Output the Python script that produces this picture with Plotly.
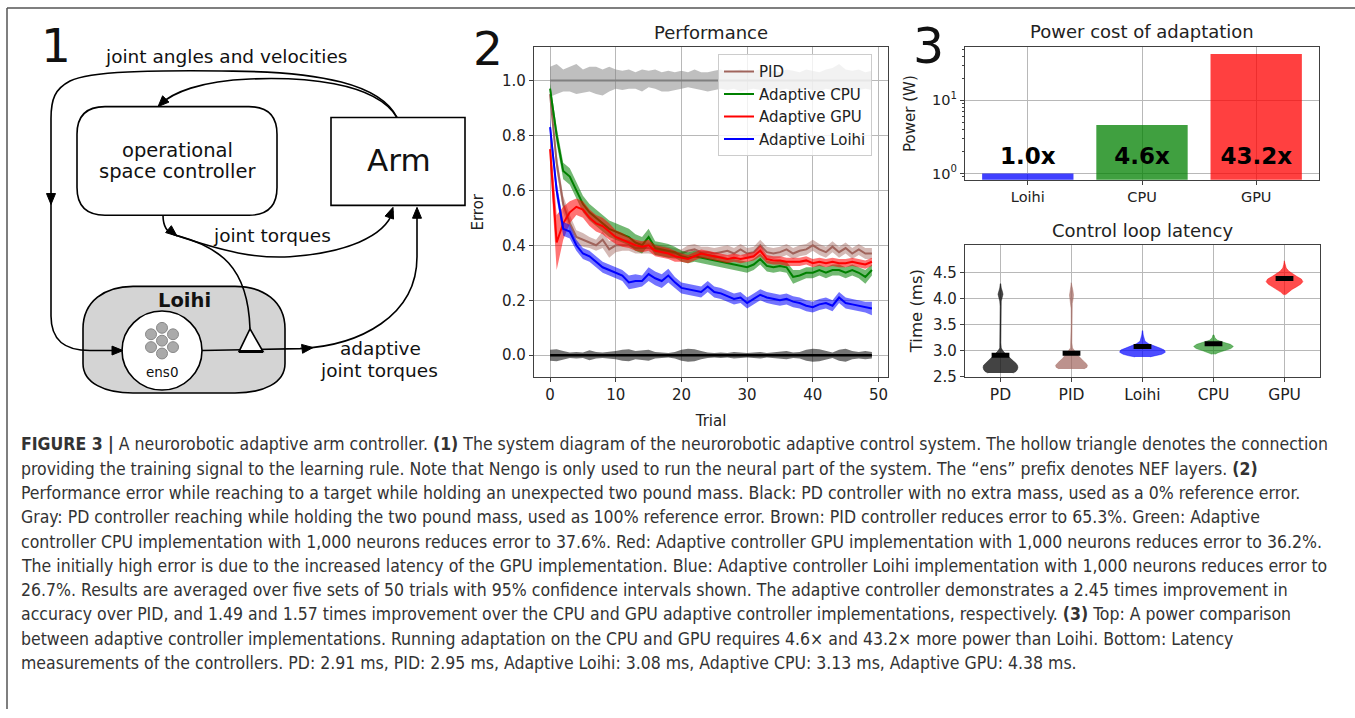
import numpy as np
import plotly.graph_objects as go

W, H = 1355, 718

# ---------------- Panel 2 data: Performance ----------------
trials = list(range(50))
gray_mean = [1.0, 1.0, 1.0, 1.0, 1.0, 1.0, 1.0, 1.0, 1.0, 1.0, 1.0, 1.0, 1.0, 1.0, 1.0, 1.0, 1.0, 1.0, 1.0, 1.0,
             1.0, 1.0, 1.0, 1.0, 1.0, 1.0, 1.0, 1.0, 1.0, 1.0, 1.0, 1.0, 1.0, 1.0, 1.0, 1.0, 1.0, 1.0, 1.0, 1.0,
             1.0, 1.0, 1.0, 1.0, 1.0, 1.0, 1.0, 1.0, 1.0, 1.0]
gray_hi = [1.05, 1.06, 1.04, 1.05, 1.06, 1.04, 1.05, 1.05, 1.04, 1.05, 1.04, 1.035, 1.04, 1.03, 1.04, 1.035, 1.04,
           1.03, 1.035, 1.03, 1.035, 1.03, 1.04, 1.03, 1.03, 1.035, 1.04, 1.03, 1.035, 1.04, 1.03, 1.035, 1.04,
           1.03, 1.035, 1.03, 1.04, 1.035, 1.03, 1.04, 1.035, 1.03, 1.04, 1.045, 1.06, 1.04, 1.035, 1.04, 1.03, 1.035]
gray_lo = [0.94, 0.95, 0.96, 0.96, 0.95, 0.955, 0.96, 0.95, 0.945, 0.96, 0.97, 0.965, 0.97, 0.97, 0.96, 0.975, 0.97,
           0.96, 0.96, 0.965, 0.97, 0.975, 0.97, 0.965, 0.96, 0.965, 0.97, 0.965, 0.97, 0.96, 0.965, 0.97, 0.965,
           0.96, 0.97, 0.965, 0.97, 0.96, 0.965, 0.97, 0.965, 0.96, 0.97, 0.965, 0.96, 0.965, 0.97, 0.965, 0.97, 0.965]
black_mean = [0.0, 0.0, 0.0, 0.0, 0.0, 0.0, 0.0, 0.0, 0.0, 0.0, 0.0, 0.0, 0.0, 0.0, 0.0, 0.0, 0.0, 0.0, 0.0, 0.0,
              0.0, 0.0, 0.0, 0.0, 0.0, 0.0, 0.0, 0.0, 0.0, 0.0, 0.0, 0.0, 0.0, 0.0, 0.0, 0.0, 0.0, 0.0, 0.0, 0.0,
              0.0, 0.0, 0.0, 0.0, 0.0, 0.0, 0.0, 0.0, 0.0, 0.0]
black_ci = [0.02, 0.022, 0.015, 0.01, 0.012, 0.01, 0.018, 0.012, 0.01, 0.012, 0.015, 0.02, 0.022, 0.015, 0.018,
            0.02, 0.012, 0.01, 0.008, 0.012, 0.02, 0.024, 0.022, 0.015, 0.01, 0.008, 0.01, 0.008, 0.012, 0.01,
            0.008, 0.01, 0.012, 0.008, 0.01, 0.012, 0.015, 0.01, 0.012, 0.02, 0.024, 0.022, 0.015, 0.01, 0.02,
            0.024, 0.015, 0.012, 0.015, 0.012]
pid_mean = [0.95, 0.70, 0.55, 0.48, 0.43, 0.42, 0.41, 0.40, 0.42, 0.385, 0.40, 0.40, 0.40, 0.39, 0.39, 0.39, 0.385,
            0.38, 0.375, 0.37, 0.37, 0.38, 0.385, 0.375, 0.375, 0.37, 0.375, 0.38, 0.37, 0.385, 0.37, 0.375, 0.40,
            0.375, 0.37, 0.375, 0.385, 0.37, 0.38, 0.385, 0.40, 0.385, 0.375, 0.395, 0.375, 0.39, 0.37, 0.385,
            0.37, 0.37]
pid_ci = [0.02, 0.03, 0.03, 0.03, 0.025, 0.025, 0.02, 0.02, 0.03, 0.03, 0.025, 0.02, 0.02, 0.02, 0.02, 0.02, 0.02,
          0.02, 0.02, 0.02, 0.015, 0.02, 0.02, 0.02, 0.02, 0.02, 0.02, 0.02, 0.02, 0.02, 0.02, 0.02, 0.02, 0.02,
          0.02, 0.02, 0.02, 0.02, 0.02, 0.02, 0.02, 0.02, 0.02, 0.02, 0.02, 0.02, 0.02, 0.02, 0.02, 0.02]
cpu_mean = [0.97, 0.80, 0.67, 0.65, 0.60, 0.55, 0.52, 0.50, 0.48, 0.46, 0.45, 0.44, 0.43, 0.41, 0.40, 0.43, 0.39,
            0.385, 0.38, 0.375, 0.36, 0.355, 0.36, 0.355, 0.35, 0.345, 0.34, 0.335, 0.33, 0.325, 0.32, 0.33, 0.35,
            0.325, 0.32, 0.325, 0.32, 0.285, 0.29, 0.30, 0.30, 0.31, 0.30, 0.31, 0.31, 0.30, 0.31, 0.30, 0.285, 0.31]
cpu_ci = [0.02, 0.03, 0.03, 0.03, 0.03, 0.03, 0.03, 0.03, 0.03, 0.03, 0.03, 0.03, 0.03, 0.03, 0.03, 0.03, 0.025,
          0.025, 0.025, 0.02, 0.02, 0.02, 0.02, 0.02, 0.02, 0.02, 0.02, 0.02, 0.02, 0.02, 0.02, 0.02, 0.02, 0.02,
          0.02, 0.02, 0.02, 0.025, 0.02, 0.02, 0.02, 0.02, 0.02, 0.02, 0.02, 0.02, 0.02, 0.02, 0.025, 0.02]
gpu_mean = [0.75, 0.41, 0.48, 0.52, 0.54, 0.53, 0.50, 0.48, 0.47, 0.45, 0.43, 0.42, 0.41, 0.40, 0.395, 0.40, 0.38,
            0.375, 0.37, 0.36, 0.355, 0.35, 0.36, 0.37, 0.365, 0.36, 0.355, 0.35, 0.355, 0.35, 0.355, 0.36, 0.38,
            0.35, 0.345, 0.345, 0.34, 0.34, 0.34, 0.345, 0.335, 0.34, 0.335, 0.34, 0.335, 0.335, 0.34, 0.335,
            0.33, 0.34]
gpu_ci = [0.05, 0.10, 0.06, 0.04, 0.03, 0.03, 0.03, 0.03, 0.03, 0.03, 0.025, 0.025, 0.02, 0.02, 0.02, 0.02, 0.02,
          0.02, 0.02, 0.02, 0.015, 0.015, 0.015, 0.015, 0.015, 0.015, 0.015, 0.015, 0.015, 0.015, 0.015, 0.015,
          0.02, 0.015, 0.015, 0.015, 0.015, 0.015, 0.015, 0.015, 0.015, 0.015, 0.015, 0.015, 0.015, 0.015, 0.015,
          0.015, 0.015, 0.015]
loihi_mean = [0.83, 0.60, 0.46, 0.45, 0.40, 0.37, 0.36, 0.34, 0.32, 0.31, 0.30, 0.29, 0.265, 0.27, 0.27, 0.295,
              0.28, 0.27, 0.29, 0.265, 0.245, 0.24, 0.235, 0.23, 0.25, 0.23, 0.225, 0.215, 0.205, 0.21, 0.19,
              0.205, 0.22, 0.21, 0.205, 0.20, 0.205, 0.195, 0.19, 0.18, 0.175, 0.185, 0.19, 0.18, 0.21, 0.19,
              0.185, 0.18, 0.175, 0.17]
loihi_ci = [0.03, 0.03, 0.025, 0.025, 0.02, 0.02, 0.02, 0.02, 0.02, 0.02, 0.02, 0.02, 0.025, 0.025, 0.02, 0.025,
            0.025, 0.025, 0.025, 0.02, 0.02, 0.02, 0.02, 0.02, 0.02, 0.02, 0.02, 0.02, 0.02, 0.02, 0.02, 0.02,
            0.02, 0.02, 0.02, 0.02, 0.02, 0.02, 0.02, 0.02, 0.02, 0.02, 0.02, 0.02, 0.02, 0.02, 0.02, 0.02,
            0.02, 0.025]
perf_x_ticks = [0, 10, 20, 30, 40, 50]
perf_y_ticks = [0.0, 0.2, 0.4, 0.6, 0.8, 1.0]

# ---------------- Panel 3 top: Power ----------------
power_names = ["Loihi", "CPU", "GPU"]
power_values = [1.0, 4.6, 43.2]
power_labels = ["1.0x", "4.6x", "43.2x"]

# ---------------- Panel 3 bottom: Latency (density profiles) ----------------
lat_names = ["PD", "PID", "Loihi", "CPU", "GPU"]
lat_means = [2.91, 2.95, 3.08, 3.13, 4.38]
pd_time = [2.57, 2.60, 2.64, 2.68, 2.72, 2.76, 2.80, 2.85, 2.90, 2.95, 3.00, 3.05, 3.15, 3.50, 3.85, 3.95, 4.02,
           4.08, 4.14, 4.20, 4.28]
pd_dens = [0.50, 0.62, 0.68, 0.70, 0.68, 0.62, 0.52, 0.40, 0.28, 0.18, 0.09, 0.03, 0.014, 0.012, 0.014, 0.03,
           0.07, 0.10, 0.07, 0.03, 0.01]
pid_time = [2.65, 2.68, 2.72, 2.76, 2.80, 2.85, 2.90, 2.95, 3.00, 3.05, 3.15, 3.50, 3.80, 3.90, 3.98, 4.06, 4.14,
            4.22, 4.30]
pid_dens = [0.50, 0.62, 0.64, 0.58, 0.48, 0.36, 0.28, 0.20, 0.12, 0.04, 0.014, 0.012, 0.014, 0.03, 0.06, 0.08,
            0.06, 0.03, 0.01]
loihi_time = [2.88, 2.90, 2.93, 2.97, 3.01, 3.05, 3.09, 3.13, 3.18, 3.24, 3.30, 3.38]
loihi_dens = [0.30, 0.55, 0.78, 0.92, 0.88, 0.70, 0.48, 0.25, 0.10, 0.05, 0.03, 0.01]
cpu_time = [2.93, 2.96, 3.00, 3.04, 3.08, 3.12, 3.16, 3.20, 3.24, 3.30]
cpu_dens = [0.06, 0.18, 0.45, 0.70, 0.80, 0.68, 0.40, 0.16, 0.06, 0.02]
gpu_time = [4.07, 4.12, 4.17, 4.22, 4.27, 4.32, 4.37, 4.42, 4.47, 4.52, 4.58, 4.65, 4.72]
gpu_dens = [0.04, 0.15, 0.30, 0.48, 0.65, 0.74, 0.68, 0.50, 0.32, 0.18, 0.07, 0.03, 0.01]
lat_y_ticks = [2.5, 3.0, 3.5, 4.0, 4.5]

# ---------------- styles ----------------
C_PID = "rgb(160,100,92)"
C_CPU = "rgb(0,128,0)"
C_GPU = "rgb(255,0,0)"
C_LOIHI = "rgb(0,0,255)"
FONT = "DejaVu Sans"
AX = "#404040"
GRID = "#b8b8b8"
TXT = "#222222"


def rgba(rgb, a):
    return rgb.replace("rgb(", "rgba(").replace(")", f",{a})")


fig = go.Figure()


def add_band(x, lo, hi, fill):
    fig.add_trace(go.Scatter(x=list(x) + list(x)[::-1], y=list(hi) + list(lo)[::-1], fill="toself",
                             fillcolor=fill, line=dict(width=0), hoverinfo="skip", showlegend=False,
                             xaxis="x", yaxis="y"))


# Gray reference
add_band(trials, gray_lo, gray_hi, "rgba(128,128,128,0.5)")
fig.add_trace(go.Scatter(x=trials, y=gray_mean, mode="lines", line=dict(color="#808080", width=2),
                         showlegend=False, xaxis="x", yaxis="y"))
# Black reference
bm = np.array(black_mean); bc = np.array(black_ci)
add_band(trials, bm - bc, bm + bc, "rgba(0,0,0,0.55)")
fig.add_trace(go.Scatter(x=trials, y=black_mean, mode="lines", line=dict(color="black", width=2.5),
                         showlegend=False, xaxis="x", yaxis="y"))

series = [("PID", pid_mean, pid_ci, C_PID, 0.45),
          ("Adaptive CPU", cpu_mean, cpu_ci, C_CPU, 0.55),
          ("Adaptive GPU", gpu_mean, gpu_ci, C_GPU, 0.55),
          ("Adaptive Loihi", loihi_mean, loihi_ci, C_LOIHI, 0.55)]
for name, m, c, col, a in series:
    m = np.array(m); c = np.array(c)
    add_band(trials, m - c, m + c, rgba(col, a))
    fig.add_trace(go.Scatter(x=trials, y=m, mode="lines", name=name, line=dict(color=col, width=2),
                             xaxis="x", yaxis="y"))

# ---------------- Bars ----------------
bar_colors = [rgba(C_LOIHI, 0.75), rgba(C_CPU, 0.75), rgba(C_GPU, 0.75)]
fig.add_trace(go.Bar(x=power_names, y=power_values, marker=dict(color=bar_colors, line=dict(width=0)),
                     width=0.8, showlegend=False, xaxis="x2", yaxis="y2"))
fig.add_trace(go.Scatter(x=power_names, y=[1.6] * 3, mode="text", text=power_labels,
                         textfont=dict(family=FONT, size=23, color="black"), textposition="middle center",
                         showlegend=False, xaxis="x2", yaxis="y2", texttemplate="<b>%{text}</b>"))

# ---------------- Violins ----------------
profiles = [(pd_time, pd_dens, "rgba(20,20,20,0.8)"),
            (pid_time, pid_dens, rgba(C_PID, 0.7)),
            (loihi_time, loihi_dens, rgba(C_LOIHI, 0.7)),
            (cpu_time, cpu_dens, rgba(C_CPU, 0.6)),
            (gpu_time, gpu_dens, rgba(C_GPU, 0.7))]
HALF = 0.35
for i, (t, d, col) in enumerate(profiles):
    pos = i + 1
    t = np.array(t); d = np.array(d) * HALF
    xs = np.concatenate([pos + d, (pos - d)[::-1]])
    ys = np.concatenate([t, t[::-1]])
    fig.add_trace(go.Scatter(x=xs, y=ys, fill="toself", fillcolor=col, mode="lines",
                             line=dict(width=0.6, color=col),
                             hoverinfo="skip", showlegend=False, xaxis="x3", yaxis="y3"))
    fig.add_trace(go.Scatter(x=[pos - 0.125, pos + 0.125], y=[lat_means[i]] * 2, mode="lines",
                             line=dict(color="black", width=5), showlegend=False, xaxis="x3", yaxis="y3"))


# ---------------- Axes ----------------
def ax_style(size=15, **kw):
    d = dict(showline=True, mirror=True, linecolor=AX, linewidth=1.3, ticks="outside", ticklen=4,
             tickcolor=AX, showgrid=True, gridcolor=GRID, gridwidth=1, zeroline=False,
             tickfont=dict(family=FONT, size=size, color=TXT), fixedrange=True)
    d.update(kw)
    return d


fig.update_layout(
    width=W, height=H, margin=dict(l=0, r=0, t=0, b=0),
    paper_bgcolor="white", plot_bgcolor="white",
    xaxis=ax_style(domain=[534 / W, 888 / W], anchor="y", range=[-2.45, 51.45], tickvals=perf_x_ticks,
                   title=dict(text="Trial", font=dict(family=FONT, size=15, color=TXT), standoff=12)),
    yaxis=ax_style(domain=[1 - 382 / H, 1 - 48 / H], anchor="x", range=[-0.08, 1.12], tickvals=perf_y_ticks,
                   tickformat=".1f",
                   title=dict(text="Error", font=dict(family=FONT, size=15, color=TXT), standoff=14)),
    xaxis2=ax_style(size=14.5, domain=[965 / W, 1319 / W], anchor="y2", range=[-0.55, 2.55], type="category"),
    yaxis2=ax_style(size=14.5, domain=[1 - 182 / H, 1 - 48 / H], anchor="x2", type="log",
                    range=[np.log10(0.82), np.log10(53.2)], tickvals=[1, 10],
                    ticktext=["10<sup>0</sup>", "10<sup>1</sup>"],
                    minor=dict(ticks="outside", ticklen=2, tickcolor=AX, showgrid=False,
                               tickvals=[0.9, 2, 3, 4, 5, 6, 7, 8, 9, 20, 30, 40, 50]),
                    title=dict(text="Power (W)", font=dict(family=FONT, size=15, color=TXT), standoff=12)),
    xaxis3=ax_style(size=15.5, domain=[965 / W, 1320 / W], anchor="y3", range=[0.5, 5.5],
                    tickvals=[1, 2, 3, 4, 5], ticktext=lat_names),
    yaxis3=ax_style(size=15, domain=[1 - 381.5 / H, 1 - 247.7 / H], anchor="x3", range=[2.5, 5.03],
                    tickvals=lat_y_ticks, tickformat=".1f",
                    title=dict(text="Time (ms)", font=dict(family=FONT, size=16.5, color=TXT), standoff=6)),
    xaxis4=dict(domain=[0, 470 / W], anchor="y4", range=[0, 470], visible=False, fixedrange=True),
    yaxis4=dict(domain=[1 - 420 / H, 1], anchor="x4", range=[420, 0], visible=False, fixedrange=True),
    legend=dict(x=718 / W, y=1 - 55 / H, xanchor="left", yanchor="top", bgcolor="rgba(255,255,255,0.8)",
                bordercolor="#cccccc", borderwidth=1, font=dict(family=FONT, size=15, color=TXT),
                tracegroupgap=0),
    showlegend=True,
)

annotations = []
shapes = []


def ptext(x, y, text, size, bold=False, color=TXT, xanchor="center", family=FONT):
    annotations.append(dict(x=x / W, y=1 - y / H, xref="paper", yref="paper",
                            text=f"<b>{text}</b>" if bold else text,
                            showarrow=False, xanchor=xanchor, yanchor="middle",
                            font=dict(family=family, size=size, color=color)))


# Panel numbers and titles
ptext(56, 46, "1", 47, color="#111")
ptext(488, 49, "2", 47, color="#111")
ptext(928, 47, "3", 49, color="#111")
ptext(711, 33, "Performance", 18)
ptext(1142, 32, "Power cost of adaptation", 18)
ptext(1142, 233, "Control loop latency", 18)

# Frame lines
shapes.append(dict(type="line", xref="paper", yref="paper", x0=7 / W, x1=1, y0=1 - 8 / H, y1=1 - 8 / H,
                   line=dict(color="#555", width=1.5)))
shapes.append(dict(type="line", xref="paper", yref="paper", x0=7 / W, x1=7 / W, y0=0, y1=1 - 8 / H,
                   line=dict(color="#555", width=1.5)))


# ---------------- Diagram (panel 1) ----------------
def dshape(path, fill=None, width=1.6, color="black"):
    s = dict(type="path", xref="x4", yref="y4", path=path, line=dict(color=color, width=width))
    if fill:
        s["fillcolor"] = fill
    shapes.append(s)


def arrow(tip, frm, size=11, wid=9):
    tx, ty = tip; fx, fy = frm
    dx, dy = tx - fx, ty - fy
    n = (dx * dx + dy * dy) ** 0.5
    dx, dy = dx / n, dy / n
    bx, by = tx - dx * size, ty - dy * size
    px_, py_ = -dy * wid / 2, dx * wid / 2
    dshape(f"M {tx} {ty} L {bx + px_} {by + py_} L {bx - px_} {by - py_} Z", fill="black", width=1)


def dtext(x, y, text, size, bold=False):
    annotations.append(dict(x=x, y=y, xref="x4", yref="y4", text=f"<b>{text}</b>" if bold else text,
                            showarrow=False, xanchor="center", yanchor="middle",
                            font=dict(family=FONT, size=size, color="#111")))


# Loihi region
dshape("M 133 290 L 235 290 C 263 290 285 305 285 333 L 285 368 C 285 388 263 398 235 398 "
       "L 133 398 C 105 398 83 388 83 368 L 83 333 C 83 305 105 290 133 290 Z", fill="#d4d4d4")
# Operational space controller box
dshape("M 105 108 L 249 108 Q 277 108 277 136 L 277 190 Q 277 218 249 218 L 105 218 "
       "Q 77 218 77 190 L 77 136 Q 77 108 105 108 Z", fill="white")
# Arm box
dshape("M 331 119 L 465 119 L 465 208 L 331 208 Z", fill="white")
# Feedback: arm -> left side -> ens0
dshape("M 397 119 C 380 85 320 73 233 72 C 150 71 90 72 70 82 C 55 90 51 100 51 120 "
       "L 51 320 C 51 345 65 355 90 355 L 121 355")
# Feedback: arm -> controller
dshape("M 397 119 C 375 82 300 78 250 80 C 200 82 172 94 160 106")
# Controller -> joint torques -> arm
dshape("M 163 218 C 163 230 168 236 175 238 C 225 255 255 262 290 260 C 345 256 385 240 393 214")
# Branch to triangle (training signal)
dshape("M 175 238 C 220 250 248 270 250 333")
# ens0 -> adaptive joint torques -> arm
dshape("M 202 355 L 300 353 C 360 350 417 320 417 260 L 417 214")
# ens0 circle
shapes.append(dict(type="circle", xref="x4", yref="y4", x0=122, x1=202, y0=315, y1=395,
                   fillcolor="white", line=dict(color="black", width=1.6)))
# neurons
for cx, cy in [(162, 332), (173, 338.5), (173, 351.5), (162, 358), (151, 351.5), (151, 338.5), (162, 345)]:
    shapes.append(dict(type="circle", xref="x4", yref="y4", x0=cx - 5.5, x1=cx + 5.5, y0=cy - 5.5, y1=cy + 5.5,
                       fillcolor="#aaaaaa", line=dict(color="#888888", width=1)))
# hollow triangle
dshape("M 250 333 L 239 356 L 263 356 Z", fill="white", width=1.6)
dshape("M 239 356 L 263 356", width=3)

# arrowheads
arrow((51, 207), (51, 195))
arrow((123, 355), (110, 355))
arrow((158, 108), (170, 96))
arrow((177, 239), (166, 230))
arrow((393, 210), (388, 224))
arrow((313, 352), (300, 353.5))
arrow((417, 210), (417, 222))

dtext(226, 57, "joint angles and velocities", 18.5)
dtext(177, 152, "operational", 19.5)
dtext(177, 174, "space controller", 19.5)
dtext(399, 162, "Arm", 31)
dtext(184, 304, "Loihi", 19.5, bold=True)
dtext(162, 377, "ens0", 13.5)
dtext(272, 238, "joint torques", 18.5)
dtext(380, 353, "adaptive", 18.5)
dtext(379, 375, "joint torques", 18.5)

# ---------------- Caption ----------------
caption_lines = [
    "<b>FIGURE 3 |</b> A neurorobotic adaptive arm controller. <b>(1)</b> The system diagram of the neurorobotic adaptive control system. The hollow triangle denotes the connection",
    "providing the training signal to the learning rule. Note that Nengo is only used to run the neural part of the system. The “ens” prefix denotes NEF layers. <b>(2)</b>",
    "Performance error while reaching to a target while holding an unexpected two pound mass. Black: PD controller with no extra mass, used as a 0% reference error.",
    "Gray: PD controller reaching while holding the two pound mass, used as 100% reference error. Brown: PID controller reduces error to 65.3%. Green: Adaptive",
    "controller CPU implementation with 1,000 neurons reduces error to 37.6%. Red: Adaptive controller GPU implementation with 1,000 neurons reduces error to 36.2%.",
    "The initially high error is due to the increased latency of the GPU implementation. Blue: Adaptive controller Loihi implementation with 1,000 neurons reduces error to",
    "26.7%. Results are averaged over five sets of 50 trials with 95% confidence intervals shown. The adaptive controller demonstrates a 2.45 times improvement in",
    "accuracy over PID, and 1.49 and 1.57 times improvement over the CPU and GPU adaptive controller implementations, respectively. <b>(3)</b> Top: A power comparison",
    "between adaptive controller implementations. Running adaptation on the CPU and GPU requires 4.6× and 43.2× more power than Loihi. Bottom: Latency",
    "measurements of the controllers. PD: 2.91 ms, PID: 2.95 ms, Adaptive Loihi: 3.08 ms, Adaptive CPU: 3.13 ms, Adaptive GPU: 4.38 ms.",
]
CAP_FONT = "Liberation Sans Narrow, DejaVu Sans Condensed, Roboto, sans-serif"
for k, line in enumerate(caption_lines):
    ptext(19, 450 + k * 24.6, line, 17.5, color="#333", xanchor="left", family=CAP_FONT)

fig.update_layout(annotations=annotations, shapes=shapes)
fig.write_html("out.html", config={"displayModeBar": False},
               post_script="document.body.style.margin='0px';")
